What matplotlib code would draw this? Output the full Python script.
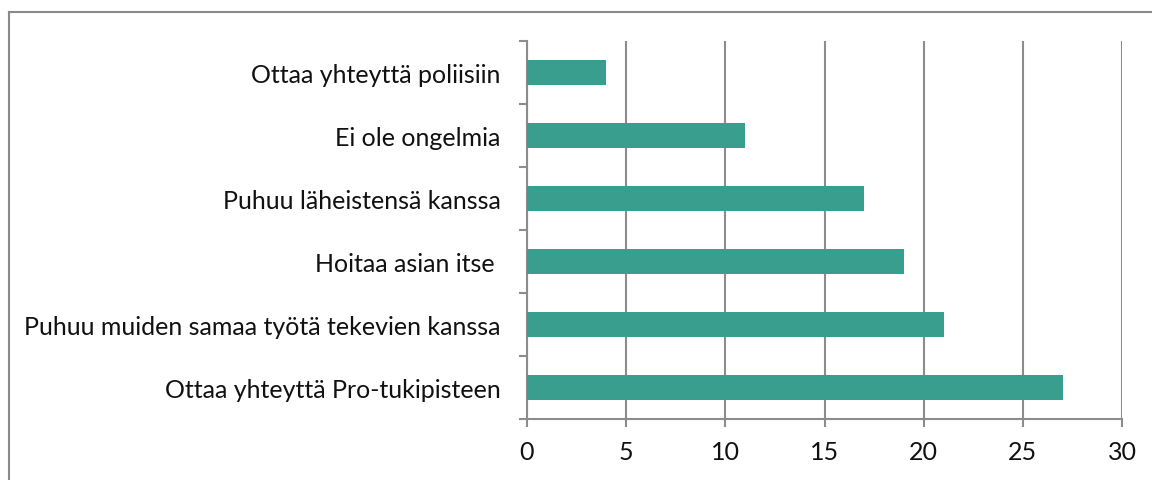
import matplotlib
matplotlib.use("Agg")
import matplotlib.pyplot as plt
from matplotlib.lines import Line2D
import numpy as np

categories = [
    "Ottaa yhteyttä Pro-tukipisteen",
    "Puhuu muiden samaa työtä tekevien kanssa",
    "Hoitaa asian itse ",
    "Puhuu läheistensä kanssa",
    "Ei ole ongelmia",
    "Ottaa yhteyttä poliisiin",
]
values = [27, 21, 19, 17, 11, 4]
xticks = [0, 5, 10, 15, 20, 25, 30]

plt.rcParams['font.family'] = ['Lato', 'DejaVu Sans']

fig = plt.figure(figsize=(11.52, 4.81), dpi=100)
ax = fig.add_axes([527/1152, 1-420/481, (1122-527)/1152, (420-42)/481])

grid_c = '#8c8c8c'
bar_c = '#3a9e8f'
y = np.arange(len(categories))
ax.barh(y, values, height=0.4, color=bar_c, zorder=3)

ax.set_xlim(0, 30)
ax.set_ylim(-0.5, len(categories) - 0.5)
ax.set_xticks(xticks)
ax.set_xticklabels([str(t) for t in xticks], fontsize=18, color='#111111')
ax.set_yticks(y)
ax.set_yticklabels(categories, fontsize=18, color='#111111')
ax.set_yticks(np.arange(-0.5, len(categories)), minor=True)
ax.tick_params(axis='y', which='major', length=0, pad=19)
ax.tick_params(axis='y', which='minor', length=6, width=1.5, color=grid_c, direction='out')
ax.tick_params(axis='x', which='major', length=6, width=1.5, color=grid_c, pad=9)
ax.xaxis.grid(True, color=grid_c, linewidth=1.5, zorder=0)
ax.set_axisbelow(True)
for s in ['top', 'right']:
    ax.spines[s].set_visible(False)
for s in ['left', 'bottom']:
    ax.spines[s].set_color(grid_c)
    ax.spines[s].set_linewidth(1.5)

# outer chart border (top and left visible)
fig.add_artist(Line2D([9/1152, 1.0], [1-13/481, 1-13/481], transform=fig.transFigure, color='#8a8a8a', linewidth=1.5))
fig.add_artist(Line2D([9/1152, 9/1152], [0.0, 1-13/481], transform=fig.transFigure, color='#8a8a8a', linewidth=1.5))

fig.savefig("out.png", dpi=100)
